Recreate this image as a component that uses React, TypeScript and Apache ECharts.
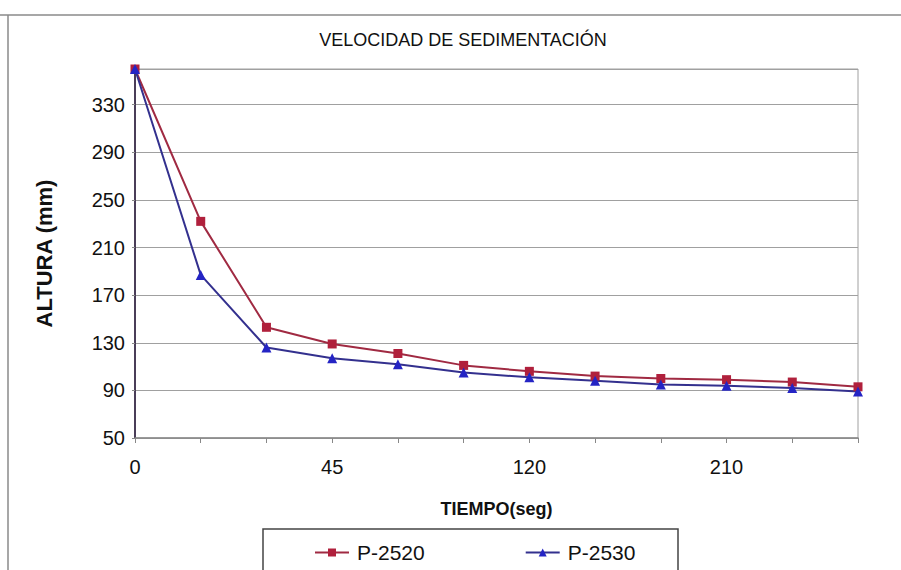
import React, { useEffect, useRef } from "react";
import * as echarts from "echarts";

const categories = ["0", "15", "30", "45", "60", "90", "120", "150", "180", "210", "240", "270"];
const p2520 = [360, 232, 143, 129, 121, 111, 106, 102, 100, 99, 97, 93];
const p2530 = [360, 187, 126, 117, 112, 105, 101, 98, 95, 94, 92, 89];
const seriesNames = ["P-2520", "P-2530"];
const titleText = "VELOCIDAD DE SEDIMENTACIÓN";
const yName = "ALTURA (mm)";
const xName = "TIEMPO(seg)";

const FONT = "'Liberation Sans', Arial, sans-serif";

export default function App() {
  const ref = useRef<HTMLDivElement>(null);
  useEffect(() => {
    if (!ref.current) return;
    const chart = echarts.init(ref.current, null, { renderer: "svg" });
    chart.setOption({
      animation: false,
      backgroundColor: "#ffffff",
      textStyle: { fontFamily: FONT },
      title: {
        text: titleText,
        left: 458,
        textAlign: "center",
        top: 26,
        textStyle: { fontFamily: FONT, fontSize: 18, fontWeight: "normal", color: "#111" },
      },
      grid: {
        left: 135,
        right: 43,
        top: 69,
        bottom: 132,
        show: true,
        borderColor: "#a0a0a0",
        borderWidth: 1,
      },
      xAxis: {
        type: "category",
        data: categories,
        boundaryGap: false,
        name: xName,
        nameLocation: "middle",
        nameGap: 62,
        nameTextStyle: { fontFamily: FONT, fontSize: 18, fontWeight: "bold", color: "#111" },
        axisLine: { lineStyle: { color: "#888", width: 1.5 } },
        axisTick: { show: true, length: 5, interval: 0, lineStyle: { color: "#888" } },
        axisLabel: { interval: 2, fontSize: 20, color: "#111", margin: 19 },
        splitLine: { show: false },
      },
      yAxis: {
        type: "value",
        min: 50,
        max: 360,
        interval: 40,
        name: yName,
        nameLocation: "middle",
        nameRotate: 90,
        nameGap: 80,
        nameTextStyle: { fontFamily: FONT, fontSize: 22, fontWeight: "bold", color: "#111" },
        axisLine: { show: true, lineStyle: { color: "#4a3d58", width: 2 } },
        axisTick: { show: true, length: 3, lineStyle: { color: "#888" } },
        axisLabel: { showMaxLabel: false, fontSize: 20, color: "#111", margin: 10 },
        splitLine: { show: true, lineStyle: { color: "#a0a0a0", width: 1 } },
      },
      legend: {
        left: 309,
        top: 537,
        itemWidth: 34,
        itemHeight: 10,
        itemGap: 100,
        textStyle: { fontFamily: FONT, fontSize: 21, color: "#111", padding: [0, 0, 0, 3] },
        data: seriesNames,
      },
      graphic: [
        { type: "line", shape: { x1: 0, y1: 15, x2: 901, y2: 15 }, style: { stroke: "#8a8a8a", lineWidth: 1.5 } },
        { type: "line", shape: { x1: 8, y1: 15, x2: 8, y2: 570 }, style: { stroke: "#8a8a8a", lineWidth: 1.5 } },
        { type: "rect", shape: { x: 263, y: 529, width: 415, height: 60 }, style: { fill: "none", stroke: "#444", lineWidth: 1.5 } },
      ],
      series: [
        {
          name: seriesNames[0],
          type: "line",
          data: p2520,
          symbol: "rect",
          symbolSize: 9,
          lineStyle: { color: "#a02a42", width: 2 },
          itemStyle: { color: "#b0203c" },
        },
        {
          name: seriesNames[1],
          type: "line",
          data: p2530,
          symbol: "triangle",
          symbolSize: 10,
          lineStyle: { color: "#33308e", width: 2 },
          itemStyle: { color: "#2424c4" },
        },
      ],
    });
    return () => chart.dispose();
  }, []);
  return <div ref={ref} style={{ width: 901, height: 570, position: "absolute", left: 0, top: 0 }} />;
}
